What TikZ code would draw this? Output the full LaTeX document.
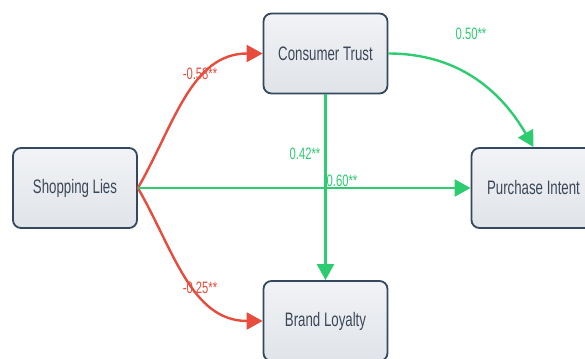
\documentclass[tikz,border=0pt]{standalone}
\usepackage{fontspec}
\setmainfont{Liberation Sans}[FakeStretch=0.68]
\usetikzlibrary{arrows.meta}

\definecolor{boxline}{HTML}{34495E}
\definecolor{boxtext}{HTML}{3B4858}
\definecolor{boxtop}{HTML}{F1F3F6}
\definecolor{boxbottom}{HTML}{E0E3E8}
\definecolor{negred}{HTML}{E74C3C}
\definecolor{posgreen}{HTML}{2ECC71}

\tikzset{
	varbox/.style={draw=boxline, line width=1.8pt, rounded corners=8pt,
		top color=boxtop, bottom color=boxbottom, text=boxtext,
		minimum width=124pt, minimum height=80pt, font=\fontsize{19.5}{22}\selectfont},
	negpath/.style={negred, line width=2.4pt},
	pospath/.style={posgreen, line width=2.4pt},
	coef/.style={font=\fontsize{16.5}{18}\selectfont, inner sep=0pt}
}

\begin{document}
\begin{tikzpicture}[x=1pt, y=1pt, >={Triangle[length=16pt,width=17pt]}]
	
	\useasboundingbox (0,0) rectangle (585,-358);
	
	% Variablen
	\node[varbox] (lies) at (75,-188) {Shopping Lies};
	\node[varbox] (trust) at (325.5,-53.5) {Consumer Trust};
	\node[varbox] (intent) at (533.5,-188) {Purchase Intent};
	\node[varbox] (loyalty) at (325.5,-321) {Brand Loyalty};
	
	% Negative Pfade
	\draw[->, negpath] (lies.east) to[out=60, in=180] (trust.west);
	\node[coef, negred] at (200,-74) {-0.58**};
	\draw[->, negpath] (lies.east) to[out=-60, in=180] (loyalty.west);
	\node[coef, negred] at (200,-288) {-0.25**};
	
	% Positive Pfade
	\draw[->, pospath] (lies.east) -- (intent.west);
	\node[coef, posgreen] at (342,-181) {0.60**};
	\draw[->, pospath] (trust.south) -- (loyalty.north);
	\node[coef, posgreen] at (305,-154) {0.42**};
	\draw[->, pospath] (trust.east) to[out=0, in=120] (intent.north);
	\node[coef, posgreen] at (471,-34) {0.50**};
	
\end{tikzpicture}
\end{document}
